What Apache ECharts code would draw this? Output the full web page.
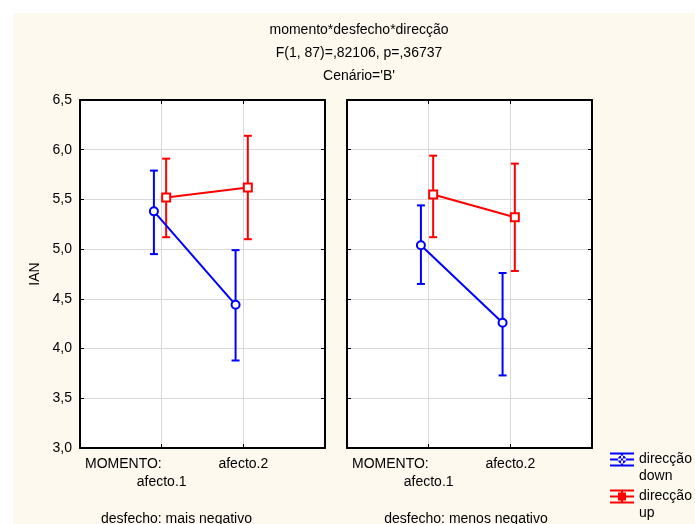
<!DOCTYPE html>
<html><head><meta charset="utf-8">
<script src="https://cdn.jsdelivr.net/npm/echarts@6/dist/echarts.min.js"></script>
<style>html,body{margin:0;padding:0;background:#fff;}#c{position:absolute;left:13px;top:13px;width:682px;height:511px;}</style>
</head><body><div id="c"></div>
<script>
// ---- data ----
const titleLines = ['momento*desfecho*direcção', 'F(1, 87)=,82106, p=,36737', "Cenário='B'"];
const momentoLabel = 'MOMENTO:';
const categories = ['afecto.1', 'afecto.2'];
const panelNames = ['desfecho: mais negativo', 'desfecho: menos negativo'];
const yAxisName = 'IAN';
const seriesNames = ['down', 'up'];
const legendPrefix = 'direcção';
const yMin = 3.0, yMax = 6.5, yStep = 0.5;

// panel 1: desfecho = mais negativo
const downMean1 = [5.38, 4.44], downLow1 = [4.95, 3.88], downHigh1 = [5.79, 4.99];
const upMean1   = [5.52, 5.62], upLow1   = [5.12, 5.10], upHigh1   = [5.91, 6.14];
// panel 2: desfecho = menos negativo
const downMean2 = [5.04, 4.26], downLow2 = [4.65, 3.73], downHigh2 = [5.44, 4.76];
const upMean2   = [5.55, 5.32], upLow2   = [5.12, 4.78], upHigh2   = [5.94, 5.86];

const panelData = [
  { down: [downMean1, downLow1, downHigh1], up: [upMean1, upLow1, upHigh1] },
  { down: [downMean2, downLow2, downHigh2], up: [upMean2, upLow2, upHigh2] }
];

// ---- style ----
const xShift = { down: -0.095, up: 0.055 };
const colors = { down: '#0000FF', up: '#FF0000' };
const symbols = { down: 'emptyCircle', up: 'emptyRect' };
const FONT = 'Liberation Sans, Arial, sans-serif';
const gridLefts = [67, 334];
const namePads = [[0, 52, 0, 0], [0, 7, 0, 0]];
const legendTops = [421, 458];
const icons = {
  down: 'path://M0,0H24V2H0Z M0,6H24V8H0Z M0,12H24V14H0Z M11,0H13V14H11Z M8,7A4,4 0 1,0 16,7A4,4 0 1,0 8,7Z',
  up: 'path://M0,0H24V2H0Z M0,6H24V8H0Z M0,12H24V14H0Z M11,0H13V14H11Z M8,3H16V11H8Z'
};

const chart = echarts.init(document.getElementById('c'));

const grids = gridLefts.map(l => ({
  left: l, top: 87, width: 245, height: 348, show: true,
  backgroundColor: '#fff', borderWidth: 0, containLabel: false, outerBoundsMode: 'none'
}));

const axisLineStyle = () => ({ show: true, onZero: false, lineStyle: { color: '#000', width: 2 } });
const tickStyle = () => ({ show: true, inside: true, length: 4, lineStyle: { color: '#000', width: 1 } });
const gridLine = () => ({ show: true, lineStyle: { color: '#D9D9D9', width: 1 } });
const xMax = categories.length + 1;

const xAxes = [];
const yAxes = [];
gridLefts.forEach((l, p) => {
  // bottom axis: category labels + panel name
  xAxes.push({
    type: 'value', gridIndex: p, position: 'bottom', min: 0, max: xMax, interval: 1,
    axisLine: axisLineStyle(), axisTick: tickStyle(), splitLine: gridLine(),
    axisLabel: {
      show: true, margin: 7, fontSize: 14, lineHeight: 18, color: '#000', fontFamily: FONT,
      showMinLabel: false, showMaxLabel: false, hideOverlap: false,
      formatter: v => {
        const i = Math.round(v) - 1;
        if (i >= 0 && i < categories.length) return (i % 2 === 0 ? '\n' : '') + categories[i];
        return '';
      }
    },
    name: panelNames[p], nameLocation: 'middle', nameGap: 64,
    nameTextStyle: { fontSize: 14, color: '#000', fontFamily: FONT, padding: namePads[p] }
  });
  yAxes.push({
    type: 'value', gridIndex: p, position: 'left', min: yMin, max: yMax, interval: yStep,
    axisLine: axisLineStyle(), axisTick: tickStyle(), splitLine: gridLine(),
    axisLabel: {
      show: p === 0, margin: 8, fontSize: 14, color: '#000', fontFamily: FONT,
      formatter: v => v.toFixed(1).replace('.', ',')
    },
    name: p === 0 ? yAxisName : '', nameLocation: 'middle', nameGap: 38,
    nameTextStyle: { fontSize: 14, color: '#000', fontFamily: FONT }
  });
});
gridLefts.forEach((l, p) => {
  xAxes.push({
    type: 'value', gridIndex: p, position: 'top', min: 0, max: xMax, interval: 1,
    axisLine: axisLineStyle(), axisTick: tickStyle(), splitLine: { show: false }, axisLabel: { show: false }
  });
  yAxes.push({
    type: 'value', gridIndex: p, position: 'right', min: yMin, max: yMax, interval: yStep,
    axisLine: axisLineStyle(), axisTick: tickStyle(), splitLine: { show: false }, axisLabel: { show: false }
  });
});
// extra bottom axis carrying the factor name "MOMENTO:" at the left end
gridLefts.forEach((l, p) => {
  xAxes.push({
    type: 'value', gridIndex: p, position: 'bottom', offset: 0, min: 0, max: xMax, interval: 1,
    axisLine: { show: false, onZero: false }, axisTick: { show: false }, splitLine: { show: false },
    axisLabel: {
      show: true, margin: 7, fontSize: 14, lineHeight: 18, color: '#000', fontFamily: FONT,
      alignMinLabel: 'left', showMinLabel: true, showMaxLabel: false, hideOverlap: false,
      formatter: v => (v === 0 ? '{m|' + momentoLabel + '}' : ''),
      rich: { m: { padding: [0, 0, 0, 5], fontSize: 14, lineHeight: 18, fontFamily: FONT, color: '#000' } }
    }
  });
});

function errRender(color) {
  return function (params, api) {
    const x = api.value(0), lo = api.value(1), hi = api.value(2);
    const a = api.coord([x, lo]), b = api.coord([x, hi]);
    const w = 4;
    const st = { stroke: color, lineWidth: 2 };
    return {
      type: 'group', children: [
        { type: 'line', shape: { x1: a[0], y1: a[1], x2: b[0], y2: b[1] }, style: st },
        { type: 'line', shape: { x1: a[0] - w, y1: a[1], x2: a[0] + w, y2: a[1] }, style: st },
        { type: 'line', shape: { x1: b[0] - w, y1: b[1], x2: b[0] + w, y2: b[1] }, style: st }
      ]
    };
  };
}

const series = [];
panelData.forEach((pd, p) => {
  seriesNames.forEach(s => {
    const [mean, low, high] = pd[s];
    series.push({
      type: 'custom', name: s, xAxisIndex: p, yAxisIndex: p, z: 2,
      renderItem: errRender(colors[s]),
      itemStyle: { color: colors[s] },
      encode: { x: 0, y: [1, 2] },
      data: categories.map((c, i) => [i + 1 + xShift[s], low[i], high[i]]),
      silent: true
    });
    series.push({
      type: 'line', name: s, xAxisIndex: p, yAxisIndex: p, z: 3,
      data: categories.map((c, i) => [i + 1 + xShift[s], mean[i]]),
      symbol: symbols[s], symbolSize: 8, showSymbol: true,
      lineStyle: { color: colors[s], width: 2 },
      itemStyle: { color: colors[s], borderWidth: 2 },
      animation: false
    });
  });
});

const legends = seriesNames.map((s, k) => ({
  orient: 'vertical', left: 597, top: legendTops[k], height: 60, itemWidth: 24, itemHeight: 14,
  selectedMode: false, padding: 0,
  data: [{ name: s, icon: icons[s], itemStyle: { color: colors[s], borderWidth: 0 } }],
  formatter: n => '\n' + legendPrefix + '\n' + n,
  textStyle: { fontSize: 14, lineHeight: 17, color: '#000', fontFamily: FONT }
}));

chart.setOption({
  animation: false,
  backgroundColor: '#FEF9EE',
  textStyle: { fontFamily: FONT },
  title: {
    text: titleLines.join('\n'), left: 346, top: 6, padding: 0, textAlign: 'center',
    textStyle: { fontSize: 14, fontWeight: 'normal', color: '#000', lineHeight: 23, fontFamily: FONT }
  },
  grid: grids,
  xAxis: xAxes,
  yAxis: yAxes,
  legend: legends,
  series: series
});
</script></body></html>
